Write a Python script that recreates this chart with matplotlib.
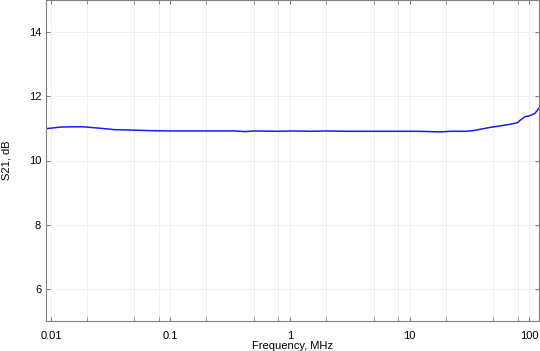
import matplotlib
matplotlib.use("Agg")
from matplotlib import pyplot as plt
from matplotlib.ticker import FixedLocator, NullFormatter

freq_mhz = [0.0091, 0.0119, 0.0150, 0.0185, 0.025, 0.0343, 0.045, 0.067, 0.1, 0.2,
            0.35, 0.42, 0.5, 0.8, 1.0, 1.5, 2.0, 3.0, 5.0, 8.0, 12.0, 18.0, 22.0,
            30.0, 34.0, 40.0, 47.0, 60.0, 72.0, 80.0, 84.0, 92.7, 98.0, 105.0, 112.0, 121.0]
s21_db = [10.99, 11.04, 11.05, 11.05, 11.01, 10.96, 10.95, 10.93, 10.92, 10.92,
          10.92, 10.90, 10.92, 10.91, 10.92, 10.91, 10.92, 10.91, 10.91, 10.91, 10.91, 10.89, 10.91,
          10.91, 10.93, 10.98, 11.03, 11.09, 11.14, 11.18, 11.25, 11.37, 11.38, 11.42, 11.47, 11.63]

x_major = [0.01, 0.1, 1, 10, 100]
x_major_labels = ["0.01", "0.1", "1", "10", "100"]
y_ticks = [6, 8, 10, 12, 14]

plt.rcParams['font.family'] = ['Liberation Sans', 'DejaVu Sans']

fig = plt.figure(figsize=(5.4, 3.51), dpi=100)
ax = fig.add_axes([46 / 540, 1 - 321 / 351, 493 / 540, 321 / 351])

ax.plot(freq_mhz, s21_db, color='#1a1aff', linewidth=1.1)

ax.set_xscale('log')
ax.set_xlim(0.0091, 121)
ax.set_ylim(5, 15)

minor = []
for d in [0.01, 0.1, 1, 10, 100]:
    for m in [2, 5, 8]:
        if d * m < 121:
            minor.append(d * m)
ax.xaxis.set_major_locator(FixedLocator(x_major))
ax.set_xticklabels(x_major_labels)
ax.xaxis.set_minor_locator(FixedLocator(minor))
ax.xaxis.set_minor_formatter(NullFormatter())
ax.set_yticks(y_ticks)

ax.grid(True, which='both', color='#ececec', linewidth=0.6)
ax.tick_params(which='both', direction='in', length=3, color='#808080',
               labelsize=8, top=True, right=True)
ax.tick_params(axis='x', pad=7)
for s in ax.spines.values():
    s.set_color('#808080')

ax.set_xlabel('Frequency, MHz', fontsize=8, labelpad=0)
ax.set_ylabel('S21, dB', fontsize=8, labelpad=12)

fig.savefig('out.png', dpi=100)
